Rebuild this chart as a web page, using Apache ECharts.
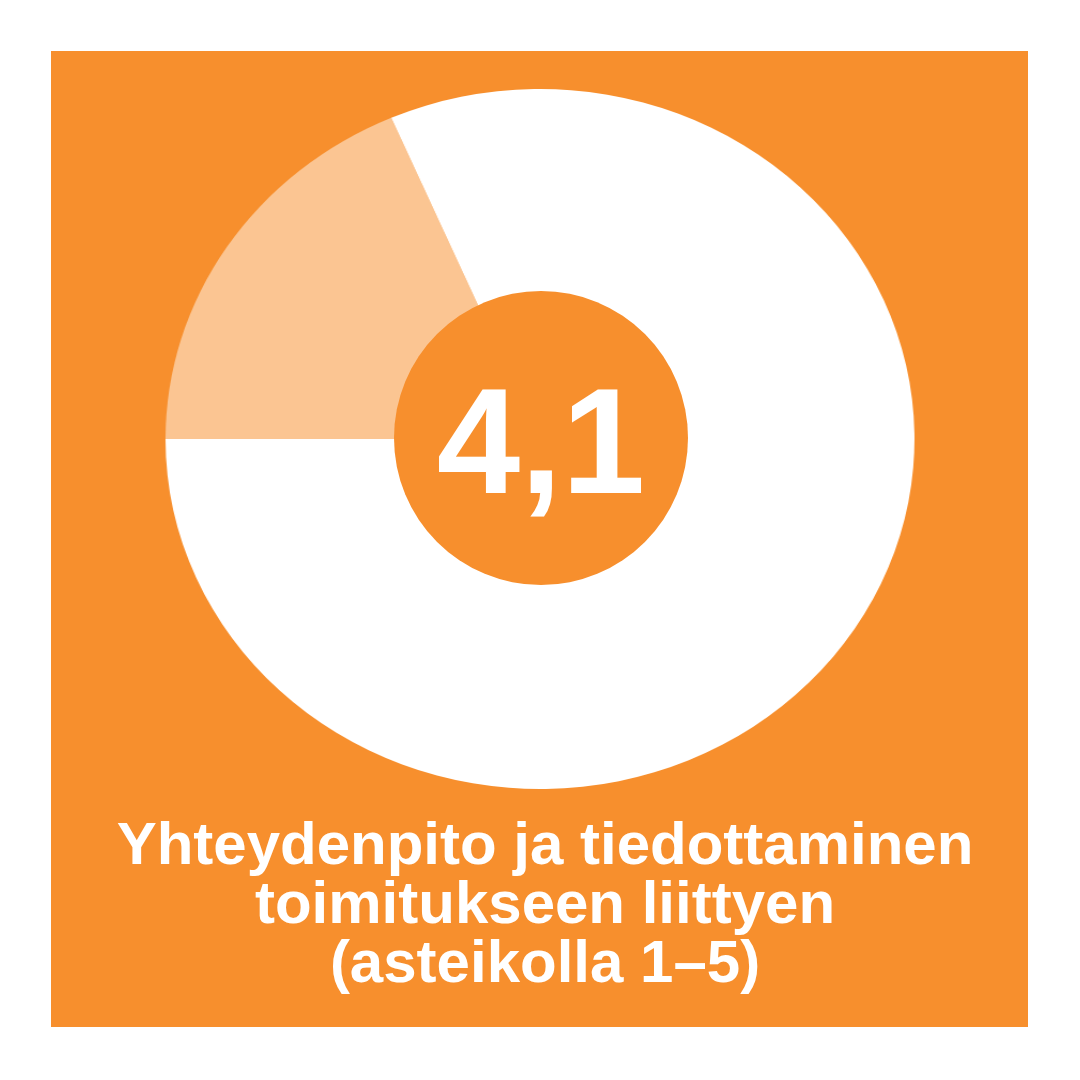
<!DOCTYPE html>
<html>
<head>
<meta charset="utf-8">
<script src="https://cdn.jsdelivr.net/npm/echarts@6/dist/echarts.min.js"></script>
<style>
  html, body { margin: 0; padding: 0; background: #ffffff; width: 1080px; height: 1080px; overflow: hidden; }
  #frame { position: absolute; left: 51px; top: 51px; width: 977px; height: 976px; background: #F78F2D; }
  #pie { position: absolute; left: 189.5px; top: 89px; width: 700px; height: 700px;
         transform: scaleX(1.07); transform-origin: 50% 50%; }
  #top { position: absolute; left: 0; top: 0; width: 1080px; height: 1080px; }
</style>
</head>
<body>
<div id="frame"></div>
<div id="pie"></div>
<div id="top"></div>
<script>
// Data
const SCORE = 4.1;                       // shown in the centre
const RING_NAMES = ['Puuttuva', 'Tulos'];
const RING_SHARES = [18.5, 81.5];        // ring split (%)
const TITLE_LINES = ['Yhteydenpito ja tiedottaminen', 'toimitukseen liittyen', '(asteikolla 1–5)'];

const ORANGE = '#F78F2D';
const LIGHT = '#FBC592';
const WHITE = '#FFFFFF';
const FONT = '"Liberation Sans", Arial, Helvetica, sans-serif';

const pieChart = echarts.init(document.getElementById('pie'), null, { renderer: 'canvas' });
pieChart.setOption({
  animation: false,
  backgroundColor: 'transparent',
  series: [{
    type: 'pie',
    silent: true,
    center: ['50%', '50%'],
    radius: [0, 350],
    startAngle: 180,
    clockwise: true,
    label: { show: false },
    labelLine: { show: false },
    emphasis: { disabled: true },
    itemStyle: { borderWidth: 0 },
    data: RING_NAMES.map((n, i) => ({
      name: n, value: RING_SHARES[i],
      itemStyle: { color: i === 0 ? LIGHT : WHITE }
    }))
  }]
});

const topChart = echarts.init(document.getElementById('top'), null, { renderer: 'canvas' });
topChart.setOption({
  animation: false,
  backgroundColor: 'transparent',
  series: [{
    type: 'pie',
    silent: true,
    z: 2,
    center: [541, 438],
    radius: [0, 147],
    emphasis: { disabled: true },
    label: { show: false },
    labelLine: { show: false },
    itemStyle: { color: ORANGE, borderWidth: 0 },
    data: [{ name: 'Arvo', value: SCORE }]
  }],
  graphic: [{
    type: 'text',
    x: 541,
    y: 452,
    z: 100,
    zlevel: 1,
    silent: true,
    style: {
      text: String(SCORE).replace('.', ','),
      fill: WHITE,
      font: 'bold 150px ' + FONT,
      textAlign: 'center',
      align: 'center',
      textVerticalAlign: 'middle',
      verticalAlign: 'middle'
    }
  }, {
    type: 'text',
    x: 545,
    y: 906,
    z: 100,
    silent: true,
    style: {
      text: TITLE_LINES.join('\n'),
      fill: WHITE,
      font: 'bold 60px ' + FONT,
      textAlign: 'center',
      align: 'center',
      textVerticalAlign: 'middle',
      verticalAlign: 'middle',
      lineHeight: 59
    }
  }]
});
</script>
</body>
</html>
